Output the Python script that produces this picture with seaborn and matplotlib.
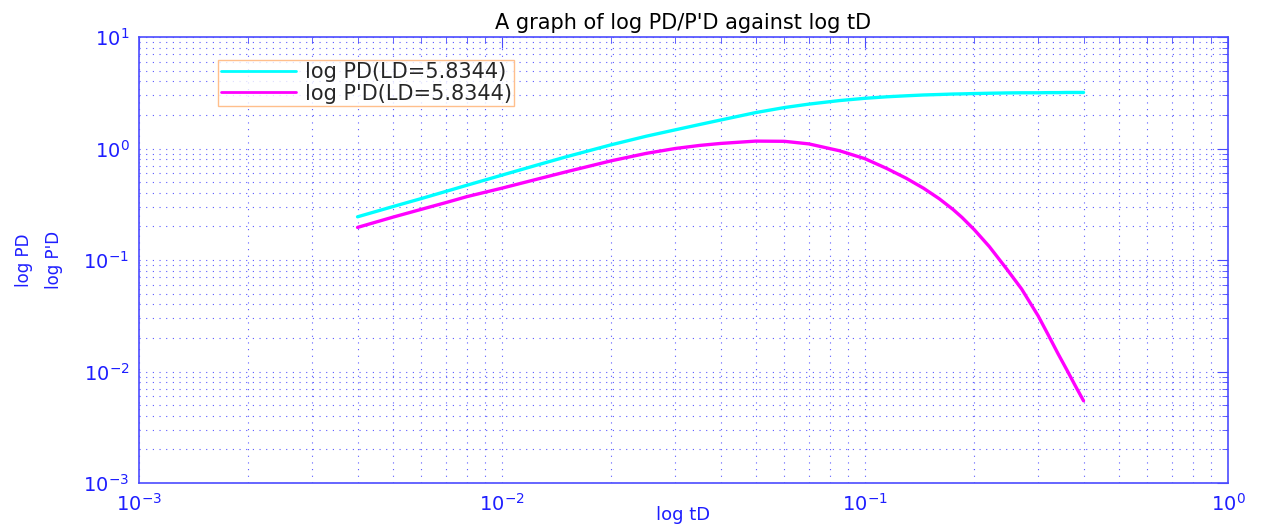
import numpy as np
import pandas as pd
import matplotlib
matplotlib.use("Agg")
import matplotlib.pyplot as plt
import seaborn as sns

# dimensionless time tD
td = [0.004, 0.005, 0.006, 0.007, 0.008, 0.01, 0.0125, 0.015, 0.02, 0.025,
      0.03, 0.035, 0.04, 0.05, 0.06, 0.07, 0.085, 0.1, 0.115, 0.13,
      0.145, 0.16, 0.175, 0.185, 0.2, 0.22, 0.245, 0.27, 0.3, 0.32,
      0.34, 0.36, 0.38, 0.4]

# dimensionless pressure PD
pd_vals = [0.244, 0.301, 0.356, 0.412, 0.468, 0.577, 0.711, 0.841, 1.08, 1.29,
           1.47, 1.64, 1.80, 2.10, 2.33, 2.50, 2.69, 2.82, 2.91, 2.97,
           3.02, 3.05, 3.08, 3.09, 3.11, 3.13, 3.15, 3.16, 3.16, 3.17,
           3.17, 3.18, 3.18, 3.18]

# pressure derivative P'D
dpd_vals = [0.196, 0.242, 0.285, 0.327, 0.370, 0.441, 0.531, 0.617, 0.776, 0.905,
            1.00, 1.065, 1.11, 1.165, 1.16, 1.10, 0.955, 0.81, 0.66, 0.54,
            0.44, 0.355, 0.283, 0.241, 0.187, 0.132, 0.084, 0.055, 0.0315, 0.0212,
            0.0145, 0.0103, 0.0074, 0.00546]

labels = ["log PD(LD=5.8344)", "log P'D(LD=5.8344)"]
colors = ["#00FFFF", "#FF00FF"]
axis_blue = "#4B4BFF"
text_blue = "#1E1EFF"

df = pd.DataFrame({
    "tD": td + td,
    "value": pd_vals + dpd_vals,
    "curve": [labels[0]] * len(td) + [labels[1]] * len(td),
})

sns.set_style("white")
plt.rcParams["font.family"] = ["DejaVu Sans"]
plt.rcParams["mathtext.default"] = "regular"
plt.rcParams["axes.unicode_minus"] = False

W, H = 1261, 527
L, R, T, B = 139, 1228, 37, 483
fig = plt.figure(figsize=(W / 100, H / 100), dpi=100)
ax = fig.add_axes([L / W, 1 - B / H, (R - L) / W, (B - T) / H])

sns.lineplot(data=df, x="tD", y="value", hue="curve", palette=colors,
             linewidth=2.4, ax=ax)

ax.set_xscale("log")
ax.set_yscale("log")
ax.set_xlim(1e-3, 1)
ax.set_ylim(1e-3, 10)

ax.grid(True, which="both", linestyle=(0, (1, 5)), color="#5A5AFF", linewidth=0.8)
for s in ax.spines.values():
    s.set_color(axis_blue)
    s.set_linewidth(1.2)
ax.tick_params(which="both", direction="in", top=True, right=True,
               colors=axis_blue, labelcolor=text_blue, labelsize=14)
ax.tick_params(which="major", length=8, pad=7)
ax.tick_params(which="minor", length=4)

ax.set_title("A graph of log PD/P'D against log tD", fontsize=15, color="black", pad=6)
ax.set_xlabel("log tD", fontsize=13, color=text_blue, labelpad=-6)
ax.set_ylabel("log PD\nlog P'D", fontsize=12, color=text_blue,
              multialignment="center", linespacing=1.85)
ax.yaxis.set_label_coords((63 - L) / (R - L), 0.5)

leg = ax.legend(loc="upper left",
                bbox_to_anchor=((218 - L) / (R - L), 1 - (60 - T) / (B - T)),
                borderaxespad=0, fontsize=15, frameon=True, fancybox=False,
                handlelength=3.6, borderpad=0.12, labelspacing=0.05,
                handletextpad=0.45)
leg.get_frame().set_edgecolor("#FFB070")
leg.get_frame().set_linewidth(1.0)
for line in leg.get_lines():
    line.set_linewidth(2)

fig.savefig("out.png", dpi=100, facecolor="white")
